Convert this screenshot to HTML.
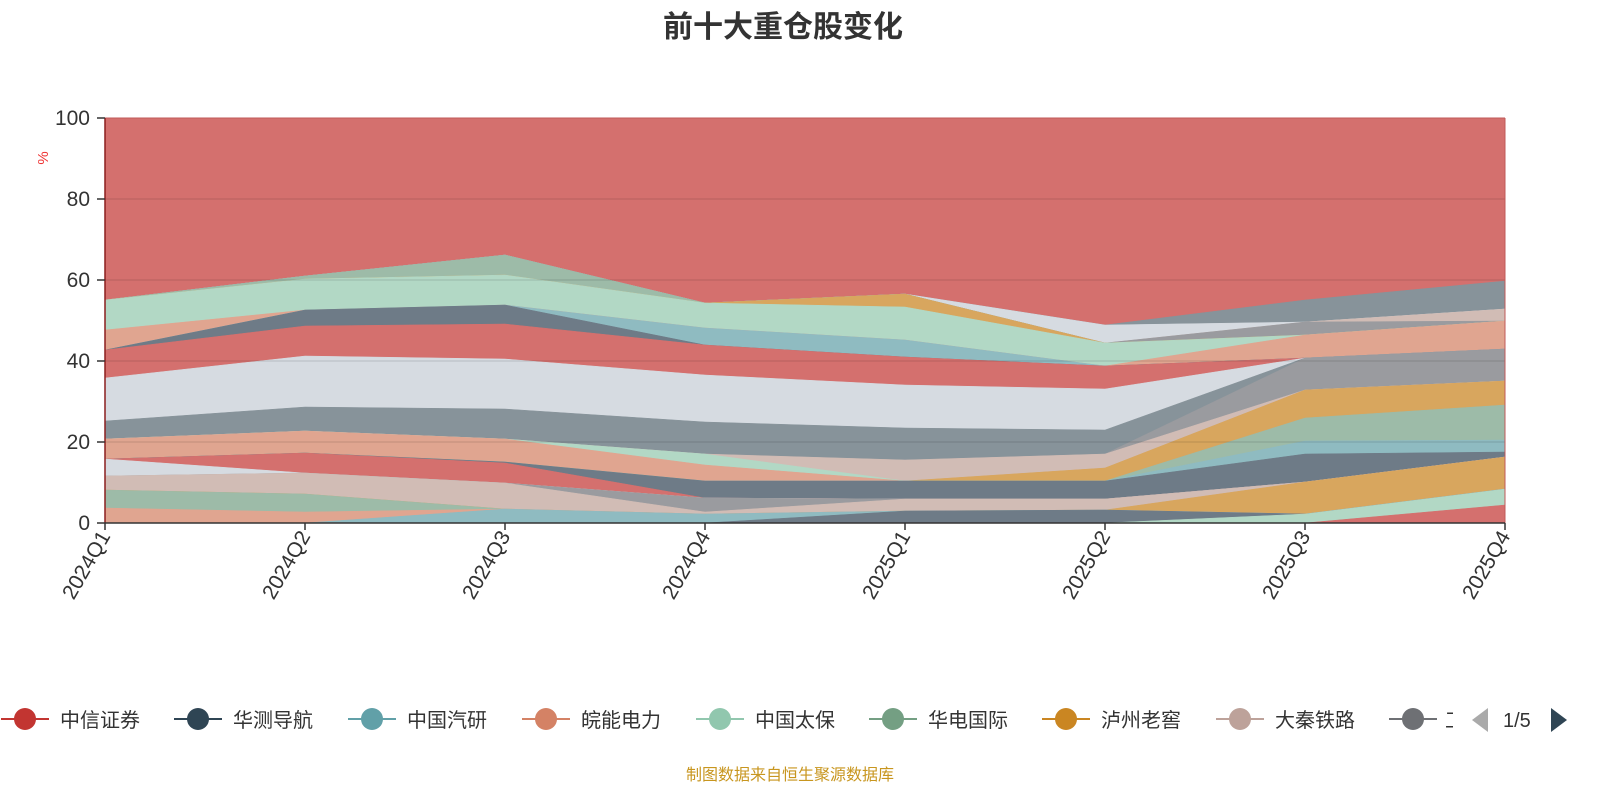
<!DOCTYPE html>
<html><head><meta charset="utf-8"><style>
html,body{margin:0;padding:0;background:#fff;}
svg{display:block;font-family:"Liberation Sans","Noto Sans CJK SC",sans-serif;}
</style></head><body>
<svg id="c" width="1600" height="800" xmlns="http://www.w3.org/2000/svg">
<text x="783" y="37" text-anchor="middle" font-size="30" font-weight="bold" fill="#333">前十大重仓股变化</text>
<rect x="105" y="118" width="1400" height="405" fill="#d4706e"/>
<g id="areas"></g>
<g stroke="rgba(0,0,0,0.07)" stroke-width="2">
<line x1="105" y1="199" x2="1505" y2="199"/><line x1="105" y1="280" x2="1505" y2="280"/>
<line x1="105" y1="361" x2="1505" y2="361"/><line x1="105" y1="442" x2="1505" y2="442"/>
</g>
<line x1="105" y1="118" x2="1505" y2="118" stroke="#c05a58" stroke-width="1"/>
<line x1="1505" y1="118" x2="1505" y2="523" stroke="#c05a58" stroke-width="1"/>
<line x1="105" y1="118" x2="105" y2="523" stroke="#8b1f1f" stroke-width="1.5"/>
<g stroke="#333" stroke-width="1.5">
<line x1="97" y1="118" x2="105" y2="118"/><line x1="97" y1="199" x2="105" y2="199"/><line x1="97" y1="280" x2="105" y2="280"/>
<line x1="97" y1="361" x2="105" y2="361"/><line x1="97" y1="442" x2="105" y2="442"/><line x1="97" y1="523" x2="105" y2="523"/>
<line x1="105" y1="523" x2="1505" y2="523"/>
</g>
<g font-size="21" fill="#333" text-anchor="end">
<text x="90" y="125">100</text><text x="90" y="206">80</text><text x="90" y="287">60</text>
<text x="90" y="368">40</text><text x="90" y="449">20</text><text x="90" y="530">0</text>
</g>
<text x="48" y="158" font-size="15" fill="#e33" text-anchor="middle" transform="rotate(-90 48 158)">%</text>
<g id="xl" font-size="21" fill="#333" text-anchor="end"></g>
<g id="leg" font-size="20" fill="#333"></g>
<polygon points="1488,708 1488,732 1472,720" fill="#aaa"/>
<text x="1503" y="727" font-size="20" fill="#333">1/5</text>
<polygon points="1551,708 1551,732 1567,720" fill="#2f4554"/>
<text x="790" y="780" font-size="16" fill="#c8961f" text-anchor="middle">制图数据来自恒生聚源数据库</text>
</svg>
<script>
var X=[105,305,505,705,905,1105,1305,1505];
var L=[
["#d4706e",[523,523,523,523,523,523,523,505]],
["#b2d8c5",[523,523,523,523,523,523,514,489]],
["#6e7b87",[523,523,523,523,511,510,514,489]],
["#8fbbc1",[523,523,509,514,511,510,514,489]],
["#e0a590",[508,512,509,514,511,510,514,489]],
["#9dbba8",[490,494,509,514,511,510,514,489]],
["#d8a65e",[490,494,509,514,511,510,482,457]],
["#d1bcb5",[476,473,483,512,499,499,482,457]],
["#9a9b9f",[476,473,483,498,499,499,482,457]],
["#d6dbe1",[459,473,483,498,499,499,482,457]],
["#d4706e",[459,453,463,498,499,499,482,457]],
["#6e7b87",[459,453,462,481,481,481,454,452]],
["#8fbbc1",[459,453,462,481,481,481,441,440]],
["#9dbba8",[459,453,462,481,481,481,418,405]],
["#d8a65e",[459,453,462,481,481,468,390,381]],
["#e0a590",[439,431,439,465,481,468,390,381]],
["#b2d8c5",[439,431,439,454,481,468,390,381]],
["#d1bcb5",[439,431,439,454,460,454,390,381]],
["#9a9b9f",[439,431,439,454,460,454,358,349]],
["#87939a",[421,407,409,422,428,430,358,349]],
["#d6dbe1",[378,356,359,375,385,389,358,349]],
["#d4706e",[350,326,324,345,357,366,358,349]],
["#6e7b87",[350,310,305,345,357,366,358,349]],
["#8fbbc1",[350,310,305,328,340,366,358,349]],
["#e0a590",[330,310,305,328,340,366,335,321]],
["#b2d8c5",[300,279,275,303,307,343,335,321]],
["#d8a65e",[300,279,275,303,294,343,335,321]],
["#9dbba8",[300,276,255,303,294,343,335,321]],
["#9a9b9f",[300,276,255,303,294,343,322,321]],
["#d1bcb5",[300,276,255,303,294,343,322,309]],
["#d6dbe1",[300,276,255,303,294,325,322,309]],
["#87939a",[300,276,255,303,294,325,300,281]]
];
var ns="http://www.w3.org/2000/svg",g=document.getElementById("areas");
for(var i=L.length-1;i>=0;i--){var p=[];for(var j=0;j<8;j++)p.push(X[j]+","+L[i][1][j]);p.push("1505,523","105,523");
var e=document.createElementNS(ns,"polygon");e.setAttribute("points",p.join(" "));e.setAttribute("fill",L[i][0]);e.setAttribute("stroke",L[i][0]);e.setAttribute("stroke-width","0.5");g.appendChild(e);}
var q=["2024Q1","2024Q2","2024Q3","2024Q4","2025Q1","2025Q2","2025Q3","2025Q4"],xl=document.getElementById("xl");
var ax=document.getElementById("c");
for(var j=0;j<8;j++){var t=document.createElementNS(ns,"text");t.setAttribute("x",X[j]+6);t.setAttribute("y",536);t.setAttribute("transform","rotate(-60 "+(X[j]+6)+" 536)");t.textContent=q[j];xl.appendChild(t);
var tk=document.createElementNS(ns,"line");tk.setAttribute("x1",X[j]);tk.setAttribute("x2",X[j]);tk.setAttribute("y1",523);tk.setAttribute("y2",530);tk.setAttribute("stroke","#333");tk.setAttribute("stroke-width","1.5");ax.appendChild(tk);}
var lg=[["中信证券","#c23531",25],["华测导航","#2f4554",198],["中国汽研","#61a0a8",372],["皖能电力","#d48265",546],["中国太保","#91c7ae",720],["华电国际","#749f83",893],["泸州老窖","#ca8622",1066],["大秦铁路","#bda29a",1240],["工","#6e7074",1413]];
var G=document.getElementById("leg");
lg.forEach(function(a){var cx=a[2];
var l=document.createElementNS(ns,"line");l.setAttribute("x1",cx-24);l.setAttribute("x2",cx+24);l.setAttribute("y1",719);l.setAttribute("y2",719);l.setAttribute("stroke",a[1]);l.setAttribute("stroke-width","2");G.appendChild(l);
var c=document.createElementNS(ns,"circle");c.setAttribute("cx",cx);c.setAttribute("cy",719);c.setAttribute("r",11);c.setAttribute("fill",a[1]);G.appendChild(c);
var t=document.createElementNS(ns,"text");t.setAttribute("x",cx+35);t.setAttribute("y",727);t.textContent=a[0];
if(a[0]=="工"){t.setAttribute("x",cx+32);var cp=document.createElementNS(ns,"clipPath");cp.setAttribute("id","cp");var r=document.createElementNS(ns,"rect");r.setAttribute("x",cx+32);r.setAttribute("y",700);r.setAttribute("width",8);r.setAttribute("height",40);cp.appendChild(r);G.appendChild(cp);t.setAttribute("clip-path","url(#cp)");}
G.appendChild(t);});
</script>
</body></html>
